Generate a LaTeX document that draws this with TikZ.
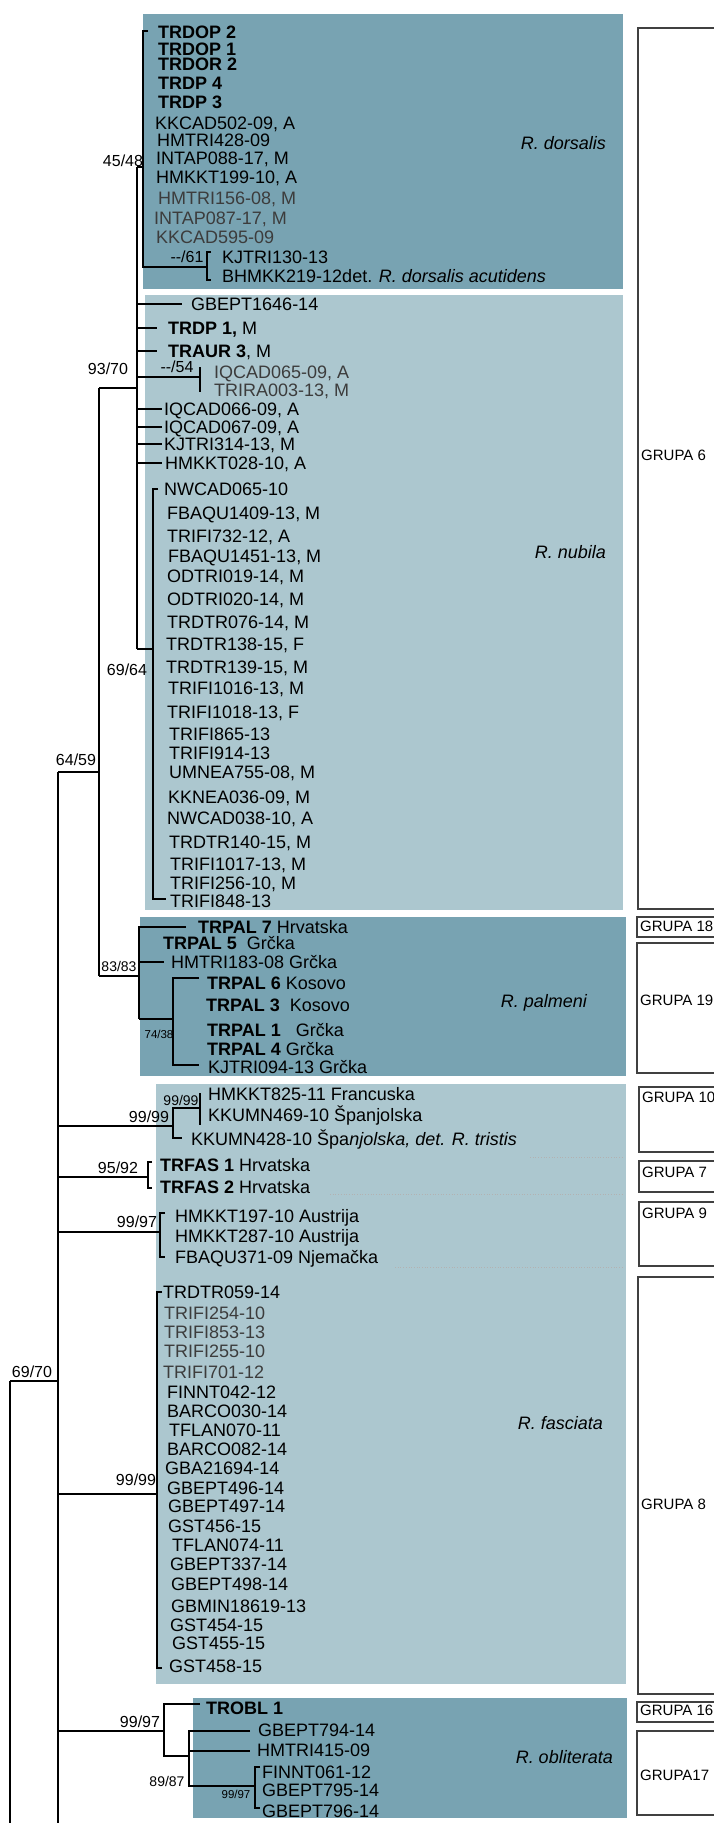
\documentclass[tikz,border=0pt]{standalone}
\usepackage{fontspec}
\setmainfont{Liberation Sans}
\definecolor{darkbox}{RGB}{120,163,178}
\definecolor{lightbox}{RGB}{172,199,207}
\definecolor{lgray}{RGB}{60,60,60}
\begin{document}
\begin{tikzpicture}[x=1pt,y=-1pt,
 lab/.style={anchor=west,inner sep=0pt,font=\fontsize{18}{18}\selectfont,text height=12.9pt,text depth=0pt},
 glab/.style={lab,text=lgray},
 sp/.style={anchor=east,inner sep=0pt,font=\fontsize{18}{18}\selectfont\itshape,text height=12.9pt,text depth=0pt},
 grp/.style={anchor=west,inner sep=0pt,font=\fontsize{15}{15}\selectfont,text height=10.7pt,text depth=0pt},
 bs/.style={inner sep=0pt,font=\fontsize{16}{16}\selectfont,text height=11.5pt,text depth=0pt},
 bss/.style={inner sep=0pt,font=\fontsize{11.5}{11.5}\selectfont,text height=8.3pt,text depth=0pt},
 bsm/.style={inner sep=0pt,font=\fontsize{14}{14}\selectfont,text height=10pt,text depth=0pt},
 br/.style={line width=1.3pt,black},
 gbox/.style={draw=black!75,line width=1.1pt},
 sepl/.style={draw=black!30,dotted,line width=0.7pt}]
\useasboundingbox (0,0) rectangle (714,1823);
\clip (0,0) rectangle (714,1823);
% ---------- clade boxes ----------
\fill[darkbox] (143,14) rectangle (623,289);
\fill[lightbox] (145,295) rectangle (623,910);
\fill[darkbox] (140,917) rectangle (626,1076);
\fill[lightbox] (156,1084) rectangle (626,1684);
\fill[darkbox] (193,1698) rectangle (627,1818);
\draw[sepl] (530,1157) -- (623,1157);
\draw[sepl] (330,1194) -- (623,1194);
\draw[sepl] (395,1267) -- (623,1267);
% ---------- group boxes ----------
\draw[gbox] (638,28) rectangle (730,909);
\draw[gbox] (637,917) rectangle (730,937);
\draw[gbox] (637,943) rectangle (730,1073);
\draw[gbox] (639,1087) rectangle (730,1152);
\draw[gbox] (639,1161) rectangle (730,1192);
\draw[gbox] (639,1202) rectangle (730,1266);
\draw[gbox] (638,1277) rectangle (730,1694);
\draw[gbox] (637,1702) rectangle (730,1722);
\draw[gbox] (637,1731) rectangle (730,1815);
\node[grp] (g6) at (641,455) {GRUPA 6};
\node[grp] (g18) at (640,926) {GRUPA 18};
\node[grp] (g19) at (640,1000) {GRUPA 19};
\node[grp] (g10) at (642,1097) {GRUPA 10};
\node[grp] (g7) at (642,1172) {GRUPA 7};
\node[grp] (g9) at (642,1213) {GRUPA 9};
\node[grp] (g8) at (641,1504) {GRUPA 8};
\node[grp] (g16) at (640,1710) {GRUPA 16};
\node[grp] (g17) at (640,1775) {GRUPA17};
% ---------- internal tree nodes ----------
\coordinate (root) at (10,1381);
\coordinate (n6970) at (58,1381);
\coordinate (n6459) at (58,772);
\coordinate (n9370) at (99,388);
\coordinate (n8383) at (99,976);
\coordinate (n4548) at (137,167);
\coordinate (dors) at (143,167);
% root
\draw[line width=2.8pt] (10,1381) -- (10,1774);
\draw[br] (10,1774) -- (10,1823);
\draw[br] (root) -- (n6970);
\draw[br] (58,772) -- (58,1823);
\draw[br] (n6459) -- (99,772);
\draw[br] (n9370) -- (n8383);
\draw[br] (n9370) -- (137,388);
\draw[br] (n8383) -- (139,976);
\draw[br] (137,167) -- (137,649);
\draw[br] (n4548) -- (dors);
% dorsalis
\draw[br] (148,31) -- (143,31) -- (143,267) -- (207,267);
\draw[br] (211,252) -- (207,252) -- (207,280) -- (211,280);
% nubila
\draw[br] (137,304) -- (182,304);
\draw[br] (137,328) -- (157,328);
\draw[br] (137,351) -- (157,351);
\draw[br] (137,377) -- (200,377);
\draw[br] (200,367) -- (200,392);
\draw[br] (137,409) -- (162,409);
\draw[br] (137,427) -- (162,427);
\draw[br] (137,444) -- (162,444);
\draw[br] (137,463) -- (162,463);
\draw[br] (137,649) -- (153,649);
\draw[br] (158,489) -- (153,489) -- (153,899) -- (166,899);
% palmeni
\draw[br] (186,927) -- (139,927) -- (139,1019);
\draw[br] (139,962) -- (164,962);
\draw[line width=1.8pt] (139,1019) -- (173,1019);
\draw[br] (199,978) -- (173,978) -- (173,1065) -- (199,1065);
% grupa 10
\draw[br] (58,1126) -- (173,1126);
\draw[br] (200,1108) -- (173,1108) -- (173,1138) -- (182,1138);
\draw[br] (200,1093) -- (200,1125);
% grupa 7
\draw[br] (58,1177) -- (148,1177);
\draw[br] (152,1162) -- (148,1162) -- (148,1188) -- (152,1188);
% grupa 9
\draw[br] (58,1232) -- (160,1232);
\draw[br] (165,1213) -- (160,1213) -- (160,1257) -- (165,1257);
% grupa 8
\draw[br] (58,1494) -- (157,1494);
\draw[br] (162,1292) -- (157,1292) -- (157,1668) -- (162,1668);
% obliterata
\draw[br] (58,1731) -- (164,1731);
\draw[br] (200,1704) -- (164,1704) -- (164,1756) -- (189,1756);
\draw[br] (250,1731) -- (189,1731) -- (189,1786) -- (255,1786);
\draw[br] (189,1751) -- (250,1751);
\draw[br] (260,1767) -- (255,1767) -- (255,1808) -- (260,1808);
% ---------- bootstrap labels ----------
\node[bs] (b1) at (123,161) {45/48};
\node[bs] (b2) at (187,257) {-{}-/61};
\node[bs] (b3) at (108,369) {93/70};
\node[bs] (b4) at (177,367) {-{}-/54};
\node[bs] (b5) at (127,670) {69/64};
\node[bs] (b6) at (76,760) {64/59};
\node[bsm] (b7) at (119,966) {83/83};
\node[bss] (b8) at (159,1034) {74/38};
\node[bsm] (b9) at (181,1100) {99/99};
\node[bs] (b10) at (149,1117) {99/99};
\node[bs] (b11) at (118,1168) {95/92};
\node[bs] (b12) at (137,1222) {99/97};
\node[bs] (b13) at (136,1480) {99/99};
\node[bs] (b14) at (32,1372) {69/70};
\node[bs] (b15) at (140,1722) {99/97};
\node[bsm] (b16) at (167,1781) {89/87};
\node[bss] (b17) at (236,1794) {99/97};
% ---------- species ----------
\node[sp] (sdor) at (606,143) {R. dorsalis};
\node[sp] (snub) at (606,552) {R. nubila};
\node[sp] (spal) at (587,1001) {R. palmeni};
\node[sp] (sfas) at (603,1423) {R. fasciata};
\node[sp] (sobl) at (613,1757) {R. obliterata};
% ---------- leaves: dorsalis ----------
\node[lab] (l1) at (158,32) {\textbf{TRDOP 2}};
\node[lab] (l2) at (158,49) {\textbf{TRDOP 1}};
\node[lab] (l3) at (158,64) {\textbf{TRDOR 2}};
\node[lab] (l4) at (158,83) {\textbf{TRDP 4}};
\node[lab] (l5) at (158,102) {\textbf{TRDP 3}};
\node[lab] (l6) at (155,123) {KKCAD502-09, A};
\node[lab] (l7) at (157,140) {HMTRI428-09};
\node[lab] (l8) at (156,158) {INTAP088-17, M};
\node[lab] (l9) at (156,177) {HMKKT199-10, A};
\node[glab] (l10) at (158,198) {HMTRI156-08, M};
\node[glab] (l11) at (154,218) {INTAP087-17, M};
\node[glab] (l12) at (156,237) {KKCAD595-09};
\node[lab] (l13) at (222,257) {KJTRI130-13};
\node[lab] (l14) at (222,276) {BHMKK219-12det. \textit{R. dorsalis acutidens}};
% ---------- leaves: nubila ----------
\node[lab] (m1) at (191,304) {GBEPT1646-14};
\node[lab] (m2) at (168,328) {\textbf{TRDP 1,} M};
\node[lab] (m3) at (168,351) {\textbf{TRAUR 3}, M};
\node[glab] (m4) at (214,372) {IQCAD065-09, A};
\node[glab] (m5) at (214,390) {TRIRA003-13, M};
\node[lab] (m6) at (164,409) {IQCAD066-09, A};
\node[lab] (m7) at (164,427) {IQCAD067-09, A};
\node[lab] (m8) at (164,444) {KJTRI314-13, M};
\node[lab] (m9) at (165,463) {HMKKT028-10, A};
\node[lab] (m10) at (164,489) {NWCAD065-10};
\node[lab] (m11) at (167,513) {FBAQU1409-13, M};
\node[lab] (m12) at (167,536) {TRIFI732-12, A};
\node[lab] (m13) at (168,556) {FBAQU1451-13, M};
\node[lab] (m14) at (167,576) {ODTRI019-14, M};
\node[lab] (m15) at (167,599) {ODTRI020-14, M};
\node[lab] (m16) at (167,622) {TRDTR076-14, M};
\node[lab] (m17) at (166,644) {TRDTR138-15, F};
\node[lab] (m18) at (166,667) {TRDTR139-15, M};
\node[lab] (m19) at (168,688) {TRIFI1016-13, M};
\node[lab] (m20) at (167,712) {TRIFI1018-13, F};
\node[lab] (m21) at (169,734) {TRIFI865-13};
\node[lab] (m22) at (169,753) {TRIFI914-13};
\node[lab] (m23) at (169,772) {UMNEA755-08, M};
\node[lab] (m24) at (168,797) {KKNEA036-09, M};
\node[lab] (m25) at (167,818) {NWCAD038-10, A};
\node[lab] (m26) at (169,842) {TRDTR140-15, M};
\node[lab] (m27) at (170,864) {TRIFI1017-13, M};
\node[lab] (m28) at (170,883) {TRIFI256-10, M};
\node[lab] (m29) at (170,901) {TRIFI848-13};
% ---------- leaves: palmeni ----------
\node[lab] (p1) at (198,927) {\textbf{TRPAL 7} Hrvatska};
\node[lab] (p2) at (163,943) {\textbf{TRPAL 5}\ \ Grčka};
\node[lab] (p3) at (171,962) {HMTRI183-08 Grčka};
\node[lab] (p4) at (207,983) {\textbf{TRPAL 6} Kosovo};
\node[lab] (p5) at (206,1005) {\textbf{TRPAL 3}\ \ Kosovo};
\node[lab] (p6) at (207,1030) {\textbf{TRPAL 1}\ \ \ Grčka};
\node[lab] (p7) at (207,1049) {\textbf{TRPAL 4} Grčka};
\node[lab] (p8) at (208,1067) {KJTRI094-13 Grčka};
% ---------- leaves: fasciata group ----------
\node[lab] (f1) at (208,1094) {HMKKT825-11 Francuska};
\node[lab] (f2) at (208,1115) {KKUMN469-10 Španjolska};
\node[lab] (f3) at (191,1139) {KKUMN428-10 Špa\textit{njolska, det. R. tristis}};
\node[lab] (f4) at (160,1165) {\textbf{TRFAS 1} Hrvatska};
\node[lab] (f5) at (160,1187) {\textbf{TRFAS 2} Hrvatska};
\node[lab] (f6) at (175,1216) {HMKKT197-10 Austrija};
\node[lab] (f7) at (175,1236) {HMKKT287-10 Austrija};
\node[lab] (f8) at (175,1257) {FBAQU371-09 Njemačka};
\node[lab] (f9) at (163,1292) {TRDTR059-14};
\node[glab] (f10) at (164,1313) {TRIFI254-10};
\node[glab] (f11) at (164,1332) {TRIFI853-13};
\node[glab] (f12) at (164,1351) {TRIFI255-10};
\node[glab] (f13) at (163,1372) {TRIFI701-12};
\node[lab] (f14) at (167,1392) {FINNT042-12};
\node[lab] (f15) at (167,1411) {BARCO030-14};
\node[lab] (f16) at (169,1430) {TFLAN070-11};
\node[lab] (f17) at (167,1449) {BARCO082-14};
\node[lab] (f18) at (165,1468) {GBA21694-14};
\node[lab] (f19) at (167,1488) {GBEPT496-14};
\node[lab] (f20) at (168,1506) {GBEPT497-14};
\node[lab] (f21) at (168,1526) {GST456-15};
\node[lab] (f22) at (172,1545) {TFLAN074-11};
\node[lab] (f23) at (170,1564) {GBEPT337-14};
\node[lab] (f24) at (171,1584) {GBEPT498-14};
\node[lab] (f25) at (171,1606) {GBMIN18619-13};
\node[lab] (f26) at (170,1625) {GST454-15};
\node[lab] (f27) at (172,1643) {GST455-15};
\node[lab] (f28) at (169,1666) {GST458-15};
% ---------- leaves: obliterata ----------
\node[lab] (o1) at (206,1708) {\textbf{TROBL 1}};
\node[lab] (o2) at (258,1730) {GBEPT794-14};
\node[lab] (o3) at (257,1750) {HMTRI415-09};
\node[lab] (o4) at (262,1772) {FINNT061-12};
\node[lab] (o5) at (262,1790) {GBEPT795-14};
\node[lab] (o6) at (262,1811) {GBEPT796-14};
\end{tikzpicture}
\end{document}
